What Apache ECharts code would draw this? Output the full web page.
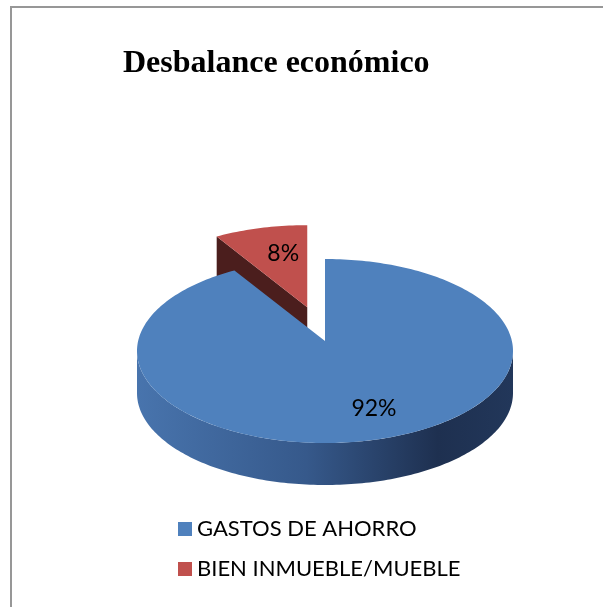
<!DOCTYPE html>
<html lang="es">
<head>
   <meta charset="utf-8">
   <title>Desbalance económico</title>
   <script src="https://cdn.jsdelivr.net/npm/echarts@6/dist/echarts.min.js"></script>
   <style>
      html, body { margin: 0; padding: 0; background: #fff; }
      #chart { width: 603px; height: 607px; }
   </style>
</head>
<body>
   <div id="chart"></div>
   <script>
      // data
      var categories = ['GASTOS DE AHORRO', 'BIEN INMUEBLE/MUEBLE'];
      var values = [92, 8];
      var exploded = [0, 1];
      var topColors = ['#4F81BD', '#C0504D'];

      // pie geometry (Excel style 3D look)
      var CX = 325, CY = 351, RX = 188, RY = 92, DEPTH = 42, LIFT = 10;
      var EXPLODE = 0.38;
      var total = values.reduce(function (a, b) { return a + b; }, 0);

      function rim(cx, cy, a, dy) {
         return [cx + RX * Math.sin(a), cy - RY * Math.cos(a) + (dy || 0)];
      }

      function arcPoints(cx, cy, a0, a1, dy) {
         var pts = [];
         var n = Math.max(2, Math.ceil((a1 - a0) / 0.02));
         for (var k = 0; k <= n; k++) {
            pts.push(rim(cx, cy, a0 + (a1 - a0) * k / n, dy));
         }
         return pts;
      }

      function makeRender(i) {
         return function (params, api) {
            var before = 0;
            for (var j = 0; j < i; j++) before += values[j];
            var a0 = before / total * Math.PI * 2;
            var a1 = (before + values[i]) / total * Math.PI * 2;
            var mid = (a0 + a1) / 2;
            var cx = CX, cy = CY;
            if (exploded[i]) {
               cx += RX * Math.sin(mid) * EXPLODE;
               cy -= RY * Math.cos(mid) * EXPLODE;
            }
            var apex = [cx, cy - LIFT];
            var children = [];

            // outer curved side, front half only
            var s0 = Math.max(a0, Math.PI / 2), s1 = Math.min(a1, Math.PI * 1.5);
            if (s1 > s0) {
               var topArc = arcPoints(cx, cy, s0, s1, 0);
               var botArc = arcPoints(cx, cy, s0, s1, DEPTH).reverse();
               children.push({
                  type: 'polygon',
                  z2: 0,
                  shape: { points: topArc.concat(botArc) },
                  style: {
                     fill: new echarts.graphic.LinearGradient(0, 0, 1, 0, [
                        { offset: 0, color: '#4874ad' },
                        { offset: 0.45, color: '#36598b' },
                        { offset: 0.8, color: '#1e3050' },
                        { offset: 1, color: '#22375a' }
                     ])
                  }
               });
            }

            // radial faces that face the viewer
            [[a0, a0 - Math.PI / 2], [a1, a1 + Math.PI / 2]].forEach(function (e) {
               if (Math.cos(e[1] - Math.PI) > 0.01) {
                  var p = rim(cx, cy, e[0], 0);
                  children.push({
                     type: 'polygon',
                     z2: 0,
                     shape: { points: [p, [p[0], p[1] + DEPTH], [apex[0], apex[1] + DEPTH], apex] },
                     style: { fill: i === 1 ? '#4b1e1d' : '#2b4670' }
                  });
               }
            });

            // top face
            children.push({
               type: 'polygon',
               z2: 1,
               shape: { points: [apex].concat(arcPoints(cx, cy, a0, a1, 0)) },
               style: { fill: topColors[i] }
            });

            // percent label
            var lf = i === 0 ? 0.62 : 0.6;
            var lp = [cx + RX * lf * Math.sin(mid) + (i === 0 ? 20 : 4), cy - RY * lf * Math.cos(mid) - (i === 0 ? -2 : 10)];
            children.push({
               type: 'text',
               z2: 2,
               x: lp[0],
               y: lp[1],
               style: {
                  text: Math.round(values[i] / total * 100) + '%',
                  fill: '#000',
                  font: '23px Lato',
                  align: 'center',
                  verticalAlign: 'middle'
               }
            });

            return { type: 'group', children: children };
         };
      }

      var chart = echarts.init(document.getElementById('chart'), null, { renderer: 'canvas' });

      var option = {
         animation: false,
         title: {
            text: 'Desbalance económico',
            left: 118,
            top: 43,
            textStyle: {
               fontFamily: 'Liberation Serif',
               fontWeight: 'bold',
               fontSize: 32,
               color: '#000'
            }
         },
         legend: {
            orient: 'vertical',
            left: 173,
            top: 513,
            itemWidth: 14,
            itemHeight: 14,
            itemGap: 18,
            icon: 'rect',
            data: categories,
            textStyle: {
               fontFamily: 'Lato',
               fontSize: 22,
               color: '#000'
            }
         },
         graphic: [{
            type: 'rect',
            shape: { x: 11, y: 7, width: 700, height: 700 },
            style: { fill: 'none', stroke: '#979797', lineWidth: 2 },
            silent: true
         }],
         series: categories.map(function (name, i) {
            return {
               type: 'custom',
               name: name,
               coordinateSystem: 'none',
               z: i === 0 ? 3 : 2,
               itemStyle: { color: topColors[i] },
               data: [values[i]],
               renderItem: makeRender(i)
            };
         })
      };

      chart.setOption(option);
   </script>
</body>
</html>
